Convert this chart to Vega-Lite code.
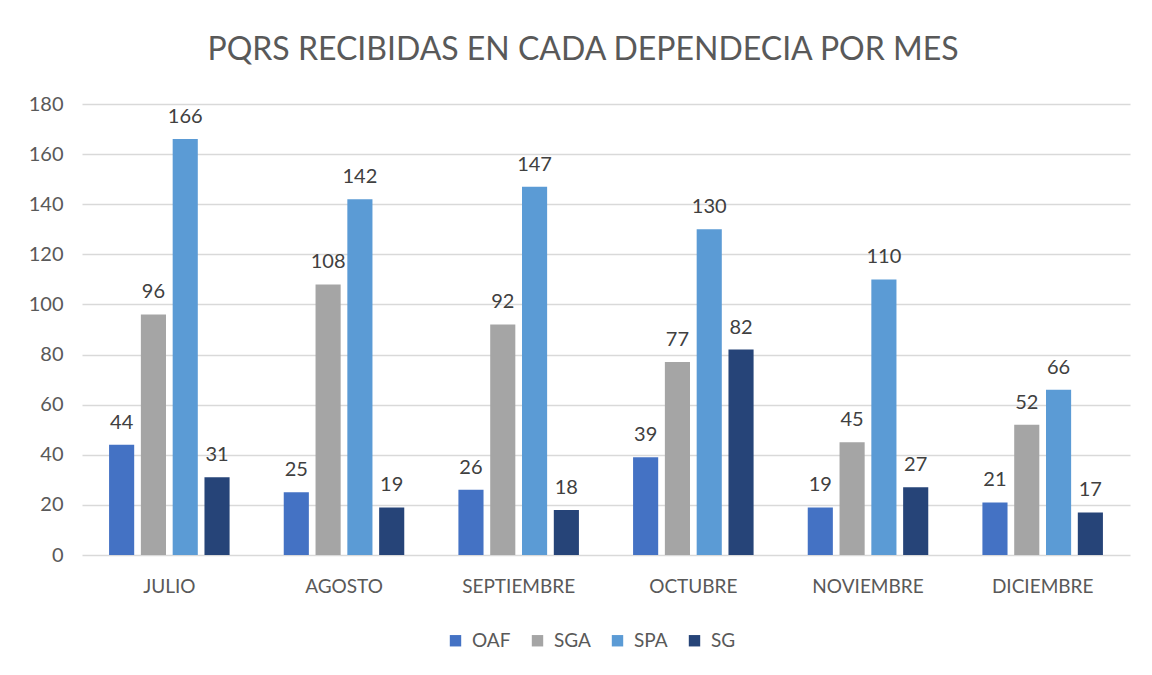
{
  "$schema": "https://vega.github.io/schema/vega-lite/v6.json",
  "width": 1048,
  "height": 451,
  "autosize": {"type": "none"},
  "padding": {"left": 82, "top": 104, "right": 22, "bottom": 120},
  "background": "white",
  "config": {"view": {"stroke": null}, "font": "Lato"},
  "title": {
    "text": "PQRS RECIBIDAS EN CADA DEPENDECIA POR MES",
    "fontSize": 32,
    "font": "Lato",
    "fontWeight": "normal",
    "color": "#595959",
    "anchor": "middle",
    "dx": -23,
    "offset": 27
  },
  "data": {
    "values": [
      {"mes": "JULIO", "dep": "OAF", "valor": 44},
      {"mes": "JULIO", "dep": "SGA", "valor": 96},
      {"mes": "JULIO", "dep": "SPA", "valor": 166},
      {"mes": "JULIO", "dep": "SG", "valor": 31},
      {"mes": "AGOSTO", "dep": "OAF", "valor": 25},
      {"mes": "AGOSTO", "dep": "SGA", "valor": 108},
      {"mes": "AGOSTO", "dep": "SPA", "valor": 142},
      {"mes": "AGOSTO", "dep": "SG", "valor": 19},
      {"mes": "SEPTIEMBRE", "dep": "OAF", "valor": 26},
      {"mes": "SEPTIEMBRE", "dep": "SGA", "valor": 92},
      {"mes": "SEPTIEMBRE", "dep": "SPA", "valor": 147},
      {"mes": "SEPTIEMBRE", "dep": "SG", "valor": 18},
      {"mes": "OCTUBRE", "dep": "OAF", "valor": 39},
      {"mes": "OCTUBRE", "dep": "SGA", "valor": 77},
      {"mes": "OCTUBRE", "dep": "SPA", "valor": 130},
      {"mes": "OCTUBRE", "dep": "SG", "valor": 82},
      {"mes": "NOVIEMBRE", "dep": "OAF", "valor": 19},
      {"mes": "NOVIEMBRE", "dep": "SGA", "valor": 45},
      {"mes": "NOVIEMBRE", "dep": "SPA", "valor": 110},
      {"mes": "NOVIEMBRE", "dep": "SG", "valor": 27},
      {"mes": "DICIEMBRE", "dep": "OAF", "valor": 21},
      {"mes": "DICIEMBRE", "dep": "SGA", "valor": 52},
      {"mes": "DICIEMBRE", "dep": "SPA", "valor": 66},
      {"mes": "DICIEMBRE", "dep": "SG", "valor": 17}
    ]
  },
  "encoding": {
    "x": {
      "field": "mes",
      "type": "nominal",
      "sort": ["JULIO", "AGOSTO", "SEPTIEMBRE", "OCTUBRE", "NOVIEMBRE", "DICIEMBRE"],
      "scale": {"paddingInner": 0.31, "paddingOuter": 0.155},
      "axis": {
        "title": null,
        "labelAngle": 0,
        "domain": false,
        "ticks": false,
        "labelPadding": 22,
        "labelFontSize": 19,
        "labelColor": "#595959",
        "labelFont": "Lato"
      }
    },
    "xOffset": {
      "field": "dep",
      "type": "nominal",
      "sort": ["OAF", "SGA", "SPA", "SG"],
      "scale": {"paddingInner": 0.21}
    },
    "y": {
      "field": "valor",
      "type": "quantitative",
      "scale": {"domain": [0, 180]},
      "axis": {
        "title": null,
        "values": [0, 20, 40, 60, 80, 100, 120, 140, 160, 180],
        "domain": false,
        "ticks": false,
        "gridColor": "#d9d9d9",
        "gridWidth": 1.5,
        "labelPadding": 19,
        "labelFontSize": 20,
        "labelColor": "#595959",
        "labelFont": "Lato"
      }
    }
  },
  "layer": [
    {
      "mark": {"type": "bar"},
      "encoding": {
        "color": {
          "field": "dep",
          "type": "nominal",
          "sort": ["OAF", "SGA", "SPA", "SG"],
          "scale": {
            "domain": ["OAF", "SGA", "SPA", "SG"],
            "range": ["#4472C4", "#A5A5A5", "#5B9BD5", "#264478"]
          },
          "legend": {
            "title": null,
            "orient": "none",
            "direction": "horizontal",
            "legendX": 364,
            "legendY": 527,
            "symbolType": "square",
            "symbolSize": 130,
            "symbolStrokeWidth": 0,
            "labelFontSize": 19,
            "labelColor": "#595959",
            "labelFont": "Lato",
            "labelOffset": 7,
            "columnPadding": 17
          }
        }
      }
    },
    {
      "mark": {
        "type": "text",
        "baseline": "bottom",
        "dy": -12,
        "fontSize": 20,
        "font": "Lato",
        "color": "#404040"
      },
      "encoding": {"text": {"field": "valor", "type": "quantitative"}}
    }
  ]
}
